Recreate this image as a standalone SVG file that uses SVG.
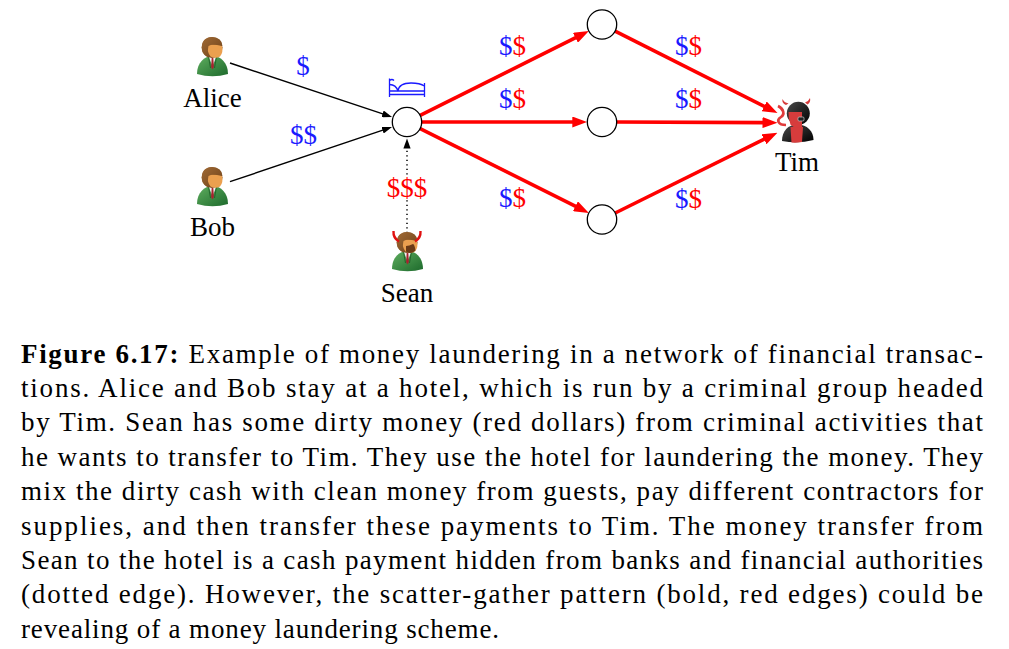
<svg xmlns="http://www.w3.org/2000/svg" width="1009" height="649" viewBox="0 0 1009 649">
<style>
  .lbl { font-family: "Liberation Serif", "Times New Roman", serif; font-size: 27px; fill: #000; text-anchor: middle; }
  .usd { font-family: "Liberation Serif", "Times New Roman", serif; font-size: 27px; text-anchor: middle; }
  .b { fill: #1a1aff; }
  .r { fill: #ff0000; }
  .cap { font-family: "Liberation Serif", "Times New Roman", serif; font-size: 27px; fill: #000; }
  .node { fill: #fff; stroke: #000; stroke-width: 1.3; }
  .blk { stroke: #000; stroke-width: 1.4; fill: none; }
  .red { stroke: #ff0000; stroke-width: 3.6; fill: none; }
  .dot { stroke: #000; stroke-width: 1.5; fill: none; stroke-dasharray: 1.2 3.3; }
</style>
<defs>
  <marker id="ab" markerUnits="userSpaceOnUse" markerWidth="10" markerHeight="7" refX="5" refY="3.5" orient="auto">
    <path d="M0,0 L10,3.5 L0,7 Z" fill="#000"/>
  </marker>
  <marker id="ar" markerUnits="userSpaceOnUse" markerWidth="15" markerHeight="11" refX="7" refY="5.5" orient="auto">
    <path d="M0,0 L15,5.5 L0,11 Z" fill="#ff0000"/>
  </marker>
  <linearGradient id="suit" x1="0" y1="0" x2="1" y2="1">
    <stop offset="0" stop-color="#5fae5f"/>
    <stop offset="1" stop-color="#1d6a2c"/>
  </linearGradient>
  <linearGradient id="hair" x1="0" y1="0" x2="1" y2="1">
    <stop offset="0" stop-color="#a06a35"/>
    <stop offset="1" stop-color="#6e4119"/>
  </linearGradient>
  <linearGradient id="devb" x1="0" y1="0" x2="1" y2="1">
    <stop offset="0" stop-color="#4a4a4a"/>
    <stop offset="1" stop-color="#000"/>
  </linearGradient>
  <g id="person">
    <path d="M0.5,37 C0.5,26 7.5,19 16,19 C24.5,19 31.5,26 31.5,37 Q16,41.5 0.5,37 Z" fill="url(#suit)"/>
    <path d="M12,19.5 L16,29 L20,19.5 Z" fill="#f2f2f2"/>
    <path d="M15.2,21 L16.8,21 L17.4,30 L16,32.5 L14.6,30 Z" fill="#a8232f"/>
    <path d="M12,19.5 L14,31 M20,19.5 L18,31" stroke="#1b5a24" stroke-width="0.8" fill="none"/>
    <circle cx="15.5" cy="10.5" r="10.5" fill="url(#hair)"/>
    <path d="M10.5,8 Q18,7 25.5,9 Q27,15.5 23.5,19.5 Q19,22 14,19.5 Q10.5,15 10.5,8 Z" fill="#eba04f"/>
    <path d="M5.5,12 Q4.5,0.5 15.5,0 Q25.5,0.5 26,9 Q19,5 12,9 Q10.5,14 11.5,20.5 Q6.5,17.5 5.5,12 Z" fill="url(#hair)"/>
  </g>
</defs>

<g id="connectors">
  <line class="blk" x1="230" y1="63" x2="387.3" y2="115.4" marker-end="url(#ab)"/>
  <line class="blk" x1="230" y1="181.7" x2="387.3" y2="128.6" marker-end="url(#ab)"/>
  <line class="dot" x1="407" y1="233" x2="407" y2="149"/>
  <path d="M403.4,148.5 L407,138.5 L410.6,148.5 Z" fill="#000"/>
  <line class="red" x1="420.15" y1="115.43" x2="581.7" y2="34.65" marker-end="url(#ar)"/>
  <line class="red" x1="421.7" y1="122" x2="579.3" y2="122" marker-end="url(#ar)"/>
  <line class="red" x1="420.15" y1="128.57" x2="581.7" y2="209.35" marker-end="url(#ar)"/>
  <line class="red" x1="615.1" y1="31.1" x2="770.4" y2="109.5" marker-end="url(#ar)"/>
  <line class="red" x1="616.7" y1="122" x2="769.5" y2="122.6" marker-end="url(#ar)"/>
  <line class="red" x1="615.2" y1="213" x2="770.3" y2="136.2" marker-end="url(#ar)"/>
  <text class="usd b" x="303" y="75">$</text>
  <text class="usd b" x="303.5" y="144">$$</text>
  <rect x="386" y="177" width="42" height="23" fill="#fff"/>
  <text class="usd r" x="407" y="197">$$$</text>
  <text class="usd" x="512.5" y="55"><tspan class="b">$</tspan><tspan class="r">$</tspan></text>
  <text class="usd" x="512.5" y="108"><tspan class="b">$</tspan><tspan class="r">$</tspan></text>
  <text class="usd" x="512.5" y="206.5"><tspan class="b">$</tspan><tspan class="r">$</tspan></text>
  <text class="usd" x="688.5" y="55"><tspan class="b">$</tspan><tspan class="r">$</tspan></text>
  <text class="usd" x="688.5" y="108"><tspan class="b">$</tspan><tspan class="r">$</tspan></text>
  <text class="usd" x="688.5" y="208"><tspan class="b">$</tspan><tspan class="r">$</tspan></text>
</g>

<g id="alice">
  <use href="#person" transform="translate(196.5,37)"/>
  <text class="lbl" x="212.5" y="107">Alice</text>
</g>
<g id="bob">
  <use href="#person" transform="translate(196.5,167)"/>
  <text class="lbl" x="212.5" y="236">Bob</text>
</g>
<g id="sean">
  <use href="#person" transform="translate(391.5,232)"/>
  <path d="M406,251.5 Q410.5,255 415.5,250.5 Q414.5,244 413,244 Q409,246 406,246 Z" fill="#6b3a16"/>
  <path d="M393.5,231 Q393,238 399,241.5" stroke="#e01010" stroke-width="2.4" fill="none"/>
  <path d="M420.5,231 Q421,238 415,241.5" stroke="#e01010" stroke-width="2.4" fill="none"/>
  <text class="lbl" x="407" y="302">Sean</text>
</g>
<g id="hotel">
  <circle class="node" cx="407" cy="122" r="14.7"/>
  <g stroke="#1a1aff" stroke-width="1.3" fill="none">
    <path d="M389.5,78.5 L389.5,97"/>
    <path d="M389.5,80.5 Q392,78.5 394,80.5"/>
    <path d="M424.5,83 L424.5,97"/>
    <path d="M389.5,91 L424.5,91 M389.5,94.5 L424.5,94.5"/>
    <path d="M389.5,84.5 Q396,84.5 398,91"/>
    <path d="M398,91 Q399,83 411,83 Q420,83 424.5,86"/>
  </g>
</g>
<g id="m1"><circle class="node" cx="602" cy="24.5" r="14.7"/></g>
<g id="m2"><circle class="node" cx="602" cy="122" r="14.7"/></g>
<g id="m3"><circle class="node" cx="602" cy="219.5" r="14.7"/></g>
<g id="tim">
  <g transform="translate(774,100)">
    <path d="M12,25 C4,25 2,20 7,17 C11,14.5 10,9 4,6" stroke="#e03a3a" stroke-width="2.6" fill="none"/>
    <path d="M12,5 Q7.5,3 8.5,-1 Q10,2.5 14.5,3.5 Z" fill="#d63c3c"/>
    <path d="M33.5,4.5 Q37,2 36,-2 Q34.5,1.5 31,2.5 Z" fill="#d63c3c"/>
    <path d="M8,41 C8,31 14,24.5 23.5,24.5 C33,24.5 39.5,31 39.5,40 Q24,44 8,41 Z" fill="url(#devb)"/>
    <path d="M16.5,27 L29,27 L28,42 Q22,43 17.5,42.5 Z" fill="#d63c3c"/>
    <circle cx="24.3" cy="13.3" r="11.5" fill="url(#devb)"/>
    <path d="M14.5,12 L28,12 L28,27.5 Q20,29 16.5,24.5 Q14,18.5 14.5,12 Z" fill="#d63c3c"/>
    <rect x="24" y="17" width="6" height="4" rx="1.2" fill="#222" stroke="#bbb" stroke-width="0.8"/>
  </g>
  <text class="lbl" x="797" y="171">Tim</text>
</g>

<g id="caption">
  <text class="cap" x="21" y="362.5" textLength="962" lengthAdjust="spacing"><tspan font-weight="bold">Figure 6.17:</tspan> Example of money laundering in a network of financial transac-</text>
  <text class="cap" x="21" y="396.9" textLength="962" lengthAdjust="spacing">tions. Alice and Bob stay at a hotel, which is run by a criminal group headed</text>
  <text class="cap" x="21" y="431.3" textLength="962" lengthAdjust="spacing">by Tim. Sean has some dirty money (red dollars) from criminal activities that</text>
  <text class="cap" x="21" y="465.7" textLength="962" lengthAdjust="spacing">he wants to transfer to Tim. They use the hotel for laundering the money. They</text>
  <text class="cap" x="21" y="500.1" textLength="962" lengthAdjust="spacing">mix the dirty cash with clean money from guests, pay different contractors for</text>
  <text class="cap" x="21" y="534.5" textLength="962" lengthAdjust="spacing">supplies, and then transfer these payments to Tim. The money transfer from</text>
  <text class="cap" x="21" y="568.9" textLength="962" lengthAdjust="spacing">Sean to the hotel is a cash payment hidden from banks and financial authorities</text>
  <text class="cap" x="21" y="603.3" textLength="962" lengthAdjust="spacing">(dotted edge). However, the scatter-gather pattern (bold, red edges) could be</text>
  <text class="cap" x="21" y="637.7" textLength="478" lengthAdjust="spacing">revealing of a money laundering scheme.</text>
</g>
</svg>
